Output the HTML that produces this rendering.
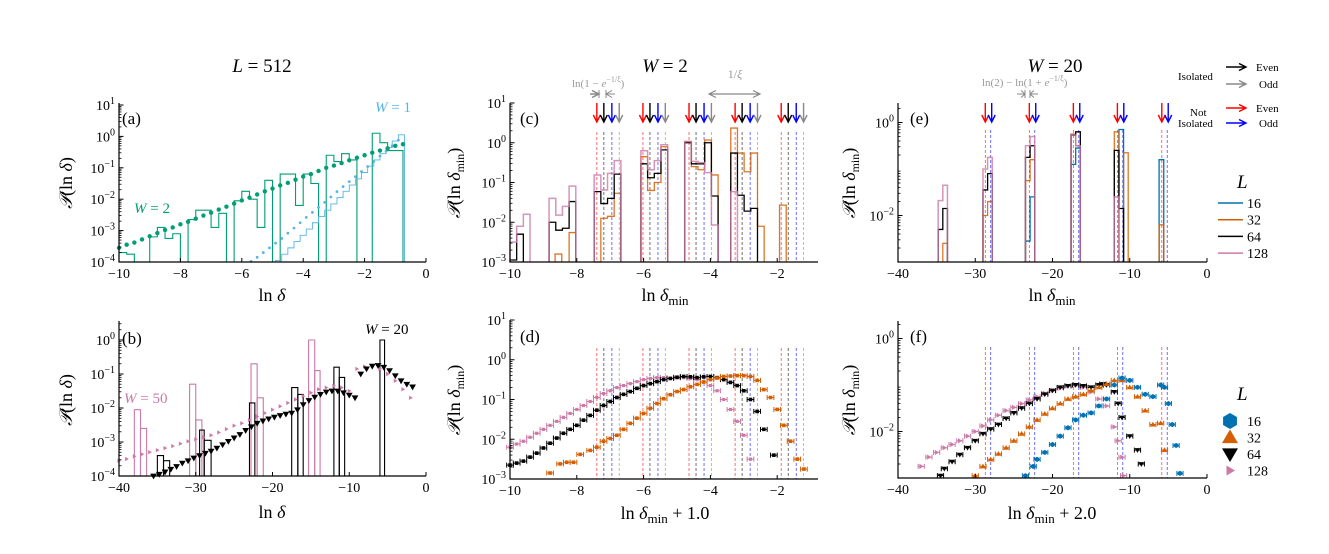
<!DOCTYPE html>
<html><head><meta charset="utf-8"><style>
html,body{margin:0;padding:0;background:#fff}
svg{display:block;font-family:"Liberation Serif",serif}
</style></head><body>
<svg id="fig" width="1329" height="554" viewBox="0 0 1329 554" xmlns="http://www.w3.org/2000/svg">
<g id="root"></g>
</svg>
<script>
// ---------- DATA ----------
// panel a
const aW2X = [-10,-9.75,-9.5,-9.25,-9,-8.75,-8.5,-8.25,-8,-7.75,-7.5,-7.25,-7,-6.75,-6.5,-6.25,-6,-5.75,-5.5,-5.25,-5,-4.75,-4.5,-4.25,-4,-3.75,-3.5,-3.25,-3,-2.75,-2.5,-2.25,-2,-1.75,-1.5,-1.25,-1,-0.75];
const aW2Y = [-3.55,-3.45,-3.38,-3.28,-3.18,-3.08,-2.98,-2.9,-2.8,-2.72,-2.62,-2.52,-2.43,-2.33,-2.24,-2.14,-2.04,-1.95,-1.85,-1.75,-1.66,-1.56,-1.48,-1.38,-1.28,-1.2,-1.1,-1.0,-0.93,-0.85,-0.76,-0.68,-0.6,-0.52,-0.45,-0.38,-0.3,-0.25];
const aW1X = [-5.7,-5.5,-5.3,-5.1,-4.9,-4.7,-4.5,-4.3,-4.1,-3.9,-3.7,-3.5,-3.3,-3.1,-2.9,-2.7,-2.5,-2.3,-2.1,-1.9,-1.7,-1.5,-1.3,-1.1,-0.9];
const aW1Y = [-3.98,-3.85,-3.7,-3.55,-3.4,-3.25,-3.08,-2.92,-2.75,-2.58,-2.42,-2.26,-2.1,-1.93,-1.76,-1.6,-1.44,-1.28,-1.12,-0.96,-0.8,-0.63,-0.47,-0.3,-0.12];
const aW1HistStart = -4.9;
const aW1HistW = 0.2;
const aW1HistY = [-3.95,-3.75,-3.55,-3.35,-3.15,-2.95,-2.75,-2.55,-2.35,-2.15,-1.95,-1.75,-1.55,-1.35,-1.15,-0.95,-0.75,-0.55,-0.35,-0.15,0.05];
const aW2HistStart = -10;
const aW2HistW = 0.25;
const aW2HistY = [-3.7,-3.75,-4,-4,-3.2,-2.9,-3.25,-3.1,-4,-2.65,-2.35,-2.35,-2.9,-2.45,-4,-2.05,-1.75,-2.0,-2.9,-1.4,-4,-1.2,-1.2,-2.2,-1.2,-1.5,-4,-0.6,-0.8,-0.55,-0.75,-4,-4,0.1,-0.2,-0.45,-0.45];
// panel b
const bW20X = [-35.5,-34.75,-34,-33.25,-32.5,-31.75,-31,-30.25,-29.5,-28.75,-28,-27.25,-26.5,-25.75,-25,-24.25,-23.5,-22.75,-22,-21.25,-20.5,-19.75,-19,-18.25,-17.5,-16.75,-16,-15.25,-14.5,-13.75,-13,-12.25,-11.5,-10.75,-10,-9.25,-8.5,-7.75,-7,-6.25,-5.5,-4.75,-4,-3.25,-2.5,-1.75];
const bW20Y = [-4.0,-3.95,-3.88,-3.8,-3.72,-3.62,-3.55,-3.47,-3.4,-3.33,-3.27,-3.18,-3.08,-2.98,-2.88,-2.78,-2.66,-2.55,-2.45,-2.38,-2.32,-2.27,-2.22,-2.18,-2.15,-2.05,-1.9,-1.78,-1.68,-1.6,-1.53,-1.5,-1.5,-1.55,-1.62,-1.7,-1.0,-0.85,-0.77,-0.75,-0.8,-0.9,-1.05,-1.2,-1.3,-1.38];
const bW50X = [-40,-39,-38,-37,-36,-35,-34,-33,-32,-31,-30,-29,-28,-27,-26,-25,-24,-23,-22,-21,-20,-19,-18,-17,-16,-15,-14,-13,-12,-11,-10,-9,-8,-7,-6,-5,-4,-3,-2];
const bW50Y = [-3.55,-3.5,-3.42,-3.36,-3.3,-3.24,-3.18,-3.12,-3.05,-2.98,-2.92,-2.86,-2.8,-2.72,-2.62,-2.52,-2.45,-2.35,-2.25,-2.15,-2.05,-1.95,-1.85,-1.75,-1.65,-1.55,-1.45,-1.4,-1.35,-1.4,-1.5,-0.85,-0.78,-0.75,-0.85,-1.0,-1.2,-1.45,-1.7];
const bHistPink = [[-38,-37.2,-2.05],[-37.2,-36.4,-2.6],[-30.8,-30,-1.3],[-30,-29.2,-2.35],[-22.8,-22,-0.7],[-22,-21.2,-1.7],[-15.3,-14.5,0.0],[-14.5,-13.8,-0.9]];
const bHistBlack = [[-35,-34.2,-3.4],[-34.2,-33.4,-3.55],[-29.5,-28.9,-2.65],[-28.9,-28,-2.95],[-23,-22.3,-1.85],[-17.5,-16.7,-1.4],[-16.7,-16,-1.6],[-12,-11.3,-0.8],[-11.3,-10.6,-1.1],[-6,-5.4,0.0]];
// panel c (clusters: start, values) bin width 0.2
const cBin = 0.2;
const cOrange = [[-8.65,[-2.8]],[-8.23,[-2.26]],[-7.48,[-3,-1.9,-1.85,-1.27]],[-6.08,[-0.35,-1.2,-1.0,-0.1]],[-4.77,[0.03,-0.6,-0.68,0.07,-0.81]],[-3.39,[0.37,-0.26,-0.73,-0.26,-2.1]],[-1.93,[-1.57]]];
const cBlack = [[-10,[-2.95,-2.3]],[-8.83,[-2.0,-2.2,-2.15,-1.48]],[-7.48,[-1.23,-1.53,-1.4,-0.79]],[-6.08,[-0.53,-0.88,-0.77,-0.18]],[-4.77,[0.0,-0.53,-0.53,0.0,-1.34]],[-3.39,[-0.26,-1.32,-1.72,-1.65]]];
const cPink = [[-10,[-2.5,-2.1,-1.8]],[-8.83,[-1.4,-1.82,-1.6,-1.09]],[-7.48,[-0.81,-1.19,-0.77,-0.45]],[-6.08,[-0.2,-0.68,-0.45,-0.05]],[-4.77,[0.03,-0.47,-0.5,-0.75,-2.07]],[-3.39,[-1.23]]];
// reference lines (W=2)
const cRedLines = [-7.4,-6.02,-4.64,-3.26,-1.88];
const cOffsets = [0, 0.21, 0.45, 0.67];
// panel d
const dPinkX = [-10,-9.8,-9.6,-9.4,-9.2,-9,-8.8,-8.6,-8.4,-8.2,-8,-7.8,-7.6,-7.4,-7.2,-7,-6.8,-6.6,-6.4,-6.2,-6,-5.8,-5.6,-5.4,-5.2,-5,-4.8,-4.6,-4.4,-4.2,-4,-3.8,-3.6,-3.4,-3.2,-3,-2.8];
const dPinkY = [-2.2,-2.12,-2.05,-1.95,-1.85,-1.75,-1.65,-1.55,-1.45,-1.35,-1.25,-1.15,-1.05,-0.95,-0.85,-0.78,-0.7,-0.65,-0.6,-0.55,-0.5,-0.47,-0.45,-0.45,-0.47,-0.46,-0.45,-0.47,-0.5,-0.56,-0.65,-0.78,-1.0,-1.25,-1.55,-1.9,-2.5];
const dBlackX = [-10,-9.8,-9.6,-9.4,-9.2,-9,-8.8,-8.6,-8.4,-8.2,-8,-7.8,-7.6,-7.4,-7.2,-7,-6.8,-6.6,-6.4,-6.2,-6,-5.8,-5.6,-5.4,-5.2,-5,-4.8,-4.6,-4.4,-4.2,-4,-3.8,-3.6,-3.4,-3.2,-3,-2.8,-2.6,-2.4,-2.1];
const dBlackY = [-2.65,-2.6,-2.55,-2.45,-2.35,-2.22,-2.1,-1.97,-1.85,-1.75,-1.65,-1.52,-1.4,-1.27,-1.15,-1.05,-0.95,-0.87,-0.8,-0.72,-0.65,-0.6,-0.55,-0.5,-0.47,-0.44,-0.42,-0.43,-0.45,-0.43,-0.42,-0.45,-0.5,-0.57,-0.65,-0.78,-1.0,-1.3,-1.75,-2.4];
const dOrangeX = [-8.8,-8.5,-8.3,-8.1,-7.9,-7.6,-7.4,-7.2,-7,-6.8,-6.6,-6.4,-6.2,-6,-5.8,-5.6,-5.4,-5.2,-5,-4.8,-4.6,-4.4,-4.2,-4,-3.8,-3.6,-3.4,-3.2,-3,-2.8,-2.6,-2.4,-2.2,-2,-1.8,-1.6,-1.4,-1.2];
const dOrangeY = [-2.85,-2.62,-2.58,-2.58,-2.38,-2.28,-2.2,-2.05,-1.98,-1.9,-1.75,-1.6,-1.47,-1.35,-1.22,-1.1,-0.98,-0.88,-0.8,-0.75,-0.68,-0.62,-0.56,-0.5,-0.46,-0.42,-0.41,-0.4,-0.4,-0.42,-0.52,-0.75,-0.95,-1.25,-1.65,-2.05,-2.5,-2.75];
// panel e (bin width 0.6)
const eBin = 0.6;
const eOrange = [[-34.2,[-2.6]],[-29,[-2.0,-1.7]],[-23.5,[-1.25,-0.8]],[-17.6,[-0.25,-0.5]],[-12,[-0.2]],[-10.8,[-0.65]],[-6.2,[-2.2]]];
const eBlack = [[-34.8,[-2.3,-1.85]],[-29,[-1.45,-1.1]],[-23.5,[-0.75,-0.5]],[-17.6,[-0.27,-0.2]],[-12,[-0.6,-1.85]]];
const ePink = [[-34.8,[-1.68,-1.35]],[-29,[-1.0,-0.75]],[-23.5,[-0.5,-0.3]],[-17.6,[-0.27,-0.5]],[-12,[-1.6]]];
const eBlue = [[-23.5,[-2.55,-1.6]],[-17.6,[-0.9,-0.55]],[-11.4,[-0.15]],[-6.2,[-0.8]]];
const eRedLines = [-28.7,-23.0,-17.3,-11.6,-5.85];
const eBlueOffset = 0.7;
// panel f
const fPinkX = [-37,-36,-35,-34,-33,-32,-31,-30,-29,-28,-27,-26,-25,-24,-23,-22,-21,-20,-19,-18,-17,-16,-15,-14,-13,-12,-11.5,-11,-10.8];
const fPinkY = [-2.75,-2.55,-2.45,-2.35,-2.28,-2.2,-2.1,-2.0,-1.88,-1.75,-1.65,-1.55,-1.48,-1.4,-1.32,-1.25,-1.18,-1.12,-1.07,-1.02,-1.0,-1.05,-1.15,-1.3,-1.45,-1.9,-2.2,-2.55,-2.95];
const fBlackX = [-34.5,-34,-33,-32,-31,-30,-29,-28,-27,-26,-25,-24,-23,-22,-21,-20,-19,-18,-17,-16,-15,-14,-13.5,-13,-12,-11.5,-11,-10,-9,-8.5];
const fBlackY = [-2.95,-2.8,-2.65,-2.5,-2.35,-2.2,-2.05,-1.95,-1.85,-1.72,-1.6,-1.5,-1.4,-1.3,-1.2,-1.12,-1.05,-1.02,-1.0,-1.02,-1.05,-1.0,-0.98,-1.0,-1.15,-1.4,-1.7,-2.1,-2.4,-2.7];
const fOrangeX = [-30,-29,-28,-27,-26,-25,-24,-23,-22,-21,-20,-19,-18,-17,-16,-15,-14,-13,-12,-11,-10,-9,-8,-7,-6,-5.5];
const fOrangeY = [-2.95,-2.75,-2.6,-2.48,-2.35,-2.2,-2.05,-1.9,-1.75,-1.62,-1.5,-1.4,-1.3,-1.25,-1.2,-1.12,-1.05,-0.98,-0.9,-0.9,-1.05,-1.25,-1.55,-1.85,-1.82,-2.4];
const fBlueX = [-23.5,-22.5,-22,-21,-20,-19,-18,-17,-16,-15,-14,-13,-12,-11,-10,-9,-8,-7,-6,-5.5,-5,-4.5,-4,-3.5];
const fBlueY = [-2.95,-2.75,-2.6,-2.45,-2.28,-2.1,-1.92,-1.75,-1.65,-1.6,-1.45,-1.3,-1.0,-0.85,-0.9,-1.05,-1.2,-1.25,-1.0,-1.05,-1.4,-1.85,-2.3,-2.9];

// ---------- COLORS ----------
const C16 = '#0072b2', C32 = '#d55e00', C64 = '#000000', C128 = '#cc79a7';
const GREEN = '#009e73', LBLUE = '#56b4e9';

// ---------- HELPERS ----------
const NS = 'http://www.w3.org/2000/svg';
const root = document.getElementById('root');
function el(tag, attrs, parent) {
  const e = document.createElementNS(NS, tag);
  for (const k in attrs) e.setAttribute(k, attrs[k]);
  (parent || root).appendChild(e);
  return e;
}
function grp(name, parent) {
  const g = el('g', {}, parent);
  
  
  return g;
}
function mkAxes(o) {
  o.sx = x => o.px0 + (x - o.xmin) * o.ux;
  o.sy = l => o.by - (l - o.ylog0) * o.dec;
  return o;
}
function fmtNum(v) { return v < 0 ? '\u2212' + Math.abs(v) : String(v); }
function drawAxes(o, name, xticks, yticks, minorFrom, minorTo) {
  const g = grp(name + '-axes');
  const bottom = o.by;
  const sp = el('path', {d: `M${o.px0},${o.top}V${bottom}H${o.xend}`, stroke: '#000', 'stroke-width': 1.2, fill: 'none'}, g);
  
  
  const xg = grp(name + '-x-ticks', g);
  xticks.forEach(v => {
    const x = o.sx(v);
    el('line', {x1: x, x2: x, y1: bottom, y2: bottom - 4, stroke: '#000', 'stroke-width': 1}, xg);
    const t = el('text', {x: x, y: bottom + 16, 'font-size': 14, 'text-anchor': 'middle'}, xg);
    
    
    t.textContent = fmtNum(v);
  });
  const yg = grp(name + '-y-ticks', g);
  for (let d = minorFrom; d < minorTo; d++) {
    for (let m = 2; m <= 9; m++) {
      const y = o.sy(d + Math.log10(m));
      if (y < o.top || y > bottom) continue;
      el('line', {x1: o.px0, x2: o.px0 + 2.5, y1: y, y2: y, stroke: '#000', 'stroke-width': 0.8}, yg);
    }
  }
  yticks.forEach(v => {
    const y = o.sy(v);
    el('line', {x1: o.px0, x2: o.px0 + 4.5, y1: y, y2: y, stroke: '#000', 'stroke-width': 1}, yg);
    const t = el('text', {x: o.px0 - 4, y: y + 5, 'font-size': 14, 'text-anchor': 'end'}, yg);
    
    
    const b = el('tspan', {}, t); b.textContent = '10';
    const s = el('tspan', {'font-size': 10, dy: -6}, t); s.textContent = fmtNum(v);
  });
}
function label(txt, x, y, opts, name) {
  const t = el('text', Object.assign({x: x, y: y, 'font-size': 16}, opts || {}));
  
  
  t.innerHTML = txt;
  return t;
}
function ylabel(x, y, sub, name) {
  const t = el('text', {x: 0, y: 0, 'font-size': 18, 'text-anchor': 'middle', transform: `translate(${x},${y}) rotate(-90)`});
  
  
  t.innerHTML = sub ? '<tspan font-style="italic">𝒫</tspan>(ln <tspan font-style="italic">δ</tspan><tspan font-size="12" dy="4">min</tspan><tspan dy="-4">)</tspan>' : '<tspan font-style="italic">𝒫</tspan>(ln <tspan font-style="italic">δ</tspan>)';
}
function stepHist(o, start, w, vals, color, g, sw, op) {
  const base = o.by;
  let d = `M${o.sx(start)},${base}`;
  vals.forEach((v, i) => {
    const y = Math.min(base, o.sy(v));
    d += `L${o.sx(start + i * w)},${y}L${o.sx(start + (i + 1) * w)},${y}`;
  });
  d += `L${o.sx(start + vals.length * w)},${base}`;
  const p = el('path', {d: d, fill: 'none', stroke: color, 'stroke-width': sw || 1.2, opacity: op || 1}, g);
  
  
}
function clusters(o, list, w, color, g, sw, op) {
  list.forEach(c => stepHist(o, c[0], w, c[1], color, g, sw, op));
}
function bars(o, list, color, g) {
  list.forEach(b => {
    const y = o.sy(b[2]);
    const p = el('path', {d: `M${o.sx(b[0])},${o.by}V${y}H${o.sx(b[1])}V${o.by}`, fill: 'none', stroke: color, 'stroke-width': 1.1}, g);
    
    
  });
}
function marker(shape, x, y, r, color, g) {
  let m;
  if (shape === 'circle') m = el('circle', {cx: x, cy: y, r: r, fill: color}, g);
  else if (shape === 'down') m = el('path', {d: `M${x - r},${y - r * 0.7}L${x + r},${y - r * 0.7}L${x},${y + r}Z`, fill: color}, g);
  else if (shape === 'up') m = el('path', {d: `M${x - r},${y + r * 0.7}L${x + r},${y + r * 0.7}L${x},${y - r}Z`, fill: color}, g);
  else if (shape === 'right') m = el('path', {d: `M${x - r * 0.7},${y - r}L${x - r * 0.7},${y + r}L${x + r},${y}Z`, fill: color}, g);
  else if (shape === 'hex') {
    let d = '';
    for (let k = 0; k < 6; k++) { const a = Math.PI / 6 + k * Math.PI / 3; d += (k ? 'L' : 'M') + (x + r * Math.cos(a)) + ',' + (y + r * Math.sin(a)); }
    m = el('path', {d: d + 'Z', fill: color}, g);
  } else m = el('rect', {x: x - r, y: y - r, width: 2 * r, height: 2 * r, fill: color}, g);
  
  
  return m;
}
function scatter(o, xs, ys, shape, r, color, g, op) {
  xs.forEach((x, i) => { const m = marker(shape, o.sx(x), o.sy(ys[i]), r, color, g); if (op) m.setAttribute('opacity', op); });
}
function errScatter(o, xs, ys, hw, shape, r, color, g) {
  xs.forEach((x, i) => {
    const px = o.sx(x), py = o.sy(ys[i]);
    if (py > o.by + 1) return;
    const a = o.sx(x - hw), b = o.sx(x + hw);
    const p = el('path', {d: `M${a},${py}H${b}M${a},${py - 2.5}V${py + 2.5}M${b},${py - 2.5}V${py + 2.5}`, stroke: color, 'stroke-width': 1, fill: 'none'}, g);
    
    
    marker(shape, px, py, r, color, g);
  });
}
function vlines(o, xs, color, y1, g) {
  xs.forEach(x => {
    const l = el('line', {x1: o.sx(x), x2: o.sx(x), y1: y1, y2: o.by, stroke: color, 'stroke-width': 0.8, 'stroke-dasharray': '3,2', opacity: 0.7}, g);
    
    
  });
}
function downArrow(x, y1, y2, color, g) {
  const p = el('path', {d: `M${x},${y1}V${y2}M${x - 3.5},${y2 - 7}L${x},${y2}L${x + 3.5},${y2 - 7}`, stroke: color, 'stroke-width': 1.4, fill: 'none'}, g);
  
  
}
function rightArrow(x1, x2, y, color, g) {
  const p = el('path', {d: `M${x1},${y}H${x2}M${x2 - 7},${y - 3.5}L${x2},${y}L${x2 - 7},${y + 3.5}`, stroke: color, 'stroke-width': 1.4, fill: 'none'}, g);
  
  
}

// ---------- PANEL A ----------
const A = mkAxes({px0: 119, xmin: -10, ux: 30.7, xend: 426, ylog0: -4, by: 262, dec: 31.4, top: 103});
const gA = grp('panel-a');
stepHist(A, aW2HistStart, aW2HistW, aW2HistY, GREEN, gA, 1.1);
stepHist(A, aW1HistStart, aW1HistW, aW1HistY, LBLUE, gA, 0.9);
scatter(A, aW1X, aW1Y, 'circle', 1.4, LBLUE, gA);
scatter(A, aW2X, aW2Y, 'circle', 2.2, GREEN, gA);
drawAxes(A, 'panel-a', [-10, -8, -6, -4, -2, 0], [-4, -3, -2, -1, 0, 1], -4, 1);
label('(a)', 122, 124, {'font-size': 17}, 'panel-a-label');
label('<tspan font-style="italic">W</tspan> = 1', 375, 112, {fill: LBLUE, 'font-size': 15}, 'w1-label');
label('<tspan font-style="italic">W</tspan> = 2', 134, 213, {fill: GREEN, 'font-size': 15}, 'w2-label');
ylabel(72, 183, false, 'panel-a-y-title');
label('ln <tspan font-style="italic">δ</tspan>', 272, 301, {'text-anchor': 'middle', 'font-size': 18}, 'panel-a-x-title');
label('<tspan font-style="italic">L</tspan> = 512', 262, 72, {'text-anchor': 'middle', 'font-size': 19}, 'column-title-l512');

// ---------- PANEL B ----------
const B = mkAxes({px0: 119, xmin: -40, ux: 7.675, xend: 426, ylog0: -4, by: 476, dec: 34, top: 321});
const gB = grp('panel-b');
bars(B, bHistPink, C128, gB);
bars(B, bHistBlack, C64, gB);
scatter(B, bW50X, bW50Y, 'right', 2.2, C128, gB);
scatter(B, bW20X, bW20Y, 'down', 3.4, C64, gB);
drawAxes(B, 'panel-b', [-40, -30, -20, -10, 0], [-4, -3, -2, -1, 0], -4, 1);
label('(b)', 122, 344, {'font-size': 17}, 'panel-b-label');
label('<tspan font-style="italic">W</tspan> = 20', 365, 334, {'font-size': 15}, 'w20-label');
label('<tspan font-style="italic">W</tspan> = 50', 124, 403, {fill: C128, 'font-size': 15}, 'w50-label');
ylabel(72, 400, false, 'panel-b-y-title');
label('ln <tspan font-style="italic">δ</tspan>', 272, 518, {'text-anchor': 'middle', 'font-size': 18}, 'panel-b-x-title');

// ---------- PANEL C ----------
const Cx = mkAxes({px0: 510, xmin: -10, ux: 33.4, xend: 818, ylog0: -3, by: 262, dec: 39.75, top: 103});
const gC = grp('panel-c');
const lineCols = ['#ff0000', '#000000', '#0000ff', '#888888'];
cOffsets.forEach((off, k) => vlines(Cx, cRedLines.map(r => r + off), lineCols[k], 132, gC));
cRedLines.forEach(r => cOffsets.forEach((off, k) => downArrow(Cx.sx(r + off), 103, 122, lineCols[k], gC)));
clusters(Cx, cOrange, cBin, C32, gC, 1.3, 0.85);
clusters(Cx, cBlack, cBin, C64, gC, 1.3);
clusters(Cx, cPink, cBin, C128, gC, 1.5, 0.8);
drawAxes(Cx, 'panel-c', [-10, -8, -6, -4, -2], [-3, -2, -1, 0, 1], -3, 1);
label('(c)', 520, 124, {'font-size': 17}, 'panel-c-label');
label('ln(1 − <tspan font-style="italic">e</tspan><tspan font-size="8" dy="-5">−1/ξ</tspan><tspan dy="5">)</tspan>', 572, 87, {fill: '#999', 'font-size': 11}, 'gap-annotation');
const annC = grp('gap-annotation-arrows');
rightArrow(590, 599, 94, '#888', annC);
el('path', {d: 'M615,94H606M612,90.5L606,94L612,97.5M599,90V98M606,90V98', stroke: '#888', 'stroke-width': 1, fill: 'none'}, annC);
label('1/<tspan font-style="italic">ξ</tspan>', 735, 78, {fill: '#999', 'font-size': 12, 'text-anchor': 'middle'}, 'xi-annotation');
el('path', {d: 'M709,94H760M716,90.5L709,94L716,97.5M753,90.5L760,94L753,97.5', stroke: '#888', 'stroke-width': 1.2, fill: 'none'}, annC);
ylabel(460, 183, true, 'panel-c-y-title');
label('ln <tspan font-style="italic">δ</tspan><tspan font-size="13" dy="4">min</tspan>', 665, 301, {'text-anchor': 'middle', 'font-size': 18}, 'panel-c-x-title');
label('<tspan font-style="italic">W</tspan> = 2', 665, 72, {'text-anchor': 'middle', 'font-size': 19}, 'column-title-w2');

// ---------- PANEL D ----------
const D = mkAxes({px0: 510, xmin: -10, ux: 33.4, xend: 818, ylog0: -3, by: 479, dec: 39.75, top: 320});
const gD = grp('panel-d');
cOffsets.forEach((off, k) => vlines(D, cRedLines.map(r => r + off), lineCols[k], 348, gD));
errScatter(D, dPinkX, dPinkY, 0.1, 'sq', 1.6, C128, gD);
errScatter(D, dBlackX, dBlackY, 0.1, 'sq', 1.8, C64, gD);
errScatter(D, dOrangeX, dOrangeY, 0.1, 'sq', 1.8, C32, gD);
drawAxes(D, 'panel-d', [-10, -8, -6, -4, -2], [-3, -2, -1, 0, 1], -3, 1);
label('(d)', 520, 342, {'font-size': 17}, 'panel-d-label');
ylabel(460, 400, true, 'panel-d-y-title');
label('ln <tspan font-style="italic">δ</tspan><tspan font-size="13" dy="4">min</tspan><tspan dy="-4"> + 1.0</tspan>', 665, 519, {'text-anchor': 'middle', 'font-size': 18}, 'panel-d-x-title');

// ---------- PANEL E ----------
const E = mkAxes({px0: 898, xmin: -40, ux: 7.725, xend: 1207, ylog0: -3, by: 262, dec: 46.5, top: 103});
const gE = grp('panel-e');
vlines(E, eRedLines, '#ff0000', 130, gE);
vlines(E, eRedLines.map(r => r + eBlueOffset), '#0000ff', 130, gE);
eRedLines.forEach(r => { downArrow(E.sx(r), 103, 122, '#ff0000', gE); downArrow(E.sx(r + eBlueOffset) + 1, 103, 122, '#0000ff', gE); });
clusters(E, eBlue, eBin, C16, gE, 1.3);
clusters(E, eOrange, eBin, C32, gE, 1.3, 0.85);
clusters(E, eBlack, eBin, C64, gE, 1.3);
clusters(E, ePink, eBin, C128, gE, 1.5, 0.8);
drawAxes(E, 'panel-e', [-40, -30, -20, -10, 0], [-2, 0], -3, 1);
label('(e)', 910, 124, {'font-size': 17}, 'panel-e-label');
label('ln(2) − ln(1 + <tspan font-style="italic">e</tspan><tspan font-size="8" dy="-5">−1/ξ</tspan><tspan dy="5">)</tspan>', 982, 86, {fill: '#999', 'font-size': 11}, 'gap-annotation-e');
el('path', {d: 'M1017,94H1025M1021,90.5L1025,94L1021,97.5M1025,90V98M1030,90V98M1038,94H1030M1034,90.5L1030,94L1034,97.5', stroke: '#888', 'stroke-width': 1, fill: 'none'}, gE);
ylabel(855, 183, true, 'panel-e-y-title');
label('ln <tspan font-style="italic">δ</tspan><tspan font-size="13" dy="4">min</tspan>', 1052, 301, {'text-anchor': 'middle', 'font-size': 18}, 'panel-e-x-title');
label('<tspan font-style="italic">W</tspan> = 20', 1055, 72, {'text-anchor': 'middle', 'font-size': 19}, 'column-title-w20');

// arrow legend
const gAL = grp('arrow-legend');
label('Isolated', 1178, 80, {'font-size': 11}, 'legend-isolated');
rightArrow(1226, 1246, 67, '#000', gAL);
rightArrow(1226, 1246, 84, '#888', gAL);
label('Even', 1256, 71, {'font-size': 11}, 'legend-even');
label('Odd', 1259, 88, {'font-size': 11}, 'legend-odd');
label('Not', 1190, 116, {'font-size': 11}, 'legend-not');
label('Isolated', 1178, 127, {'font-size': 11}, 'legend-not-isolated');
rightArrow(1226, 1246, 108, '#ff0000', gAL);
rightArrow(1226, 1246, 123, '#0000ff', gAL);
label('Even', 1256, 112, {'font-size': 11}, 'legend-even-2');
label('Odd', 1259, 127, {'font-size': 11}, 'legend-odd-2');

// L legend (lines)
const gLL = grp('size-legend-lines');
label('<tspan font-style="italic">L</tspan>', 1237, 188, {'font-size': 19}, 'legend-title-l');
const legL = ['16', '32', '64', '128'];
const legC = [C16, C32, C64, C128];
legL.forEach((t, i) => {
  const y = 203 + i * 16.7;
  const l = el('line', {x1: 1218, x2: 1243, y1: y, y2: y, stroke: legC[i], 'stroke-width': 1.5}, gLL);
  
  
  label(t, 1247, y + 5, {'font-size': 14}, 'legend-entry-' + t);
});

// ---------- PANEL F ----------
const F = mkAxes({px0: 898, xmin: -40, ux: 7.725, xend: 1207, ylog0: -3, by: 478, dec: 46.5, top: 321});
const gF = grp('panel-f');
vlines(F, eRedLines, '#ff0000', 347, gF);
vlines(F, eRedLines.map(r => r + eBlueOffset), '#0000ff', 347, gF);
errScatter(F, fPinkX, fPinkY, 0.4, 'right', 2.6, C128, gF);
errScatter(F, fBlackX, fBlackY, 0.4, 'down', 2.8, C64, gF);
errScatter(F, fOrangeX, fOrangeY, 0.4, 'up', 2.8, C32, gF);
errScatter(F, fBlueX, fBlueY, 0.4, 'hex', 2.6, C16, gF);
drawAxes(F, 'panel-f', [-40, -30, -20, -10, 0], [-2, 0], -3, 1);
label('(f)', 910, 342, {'font-size': 17}, 'panel-f-label');
ylabel(855, 400, true, 'panel-f-y-title');
label('ln <tspan font-style="italic">δ</tspan><tspan font-size="13" dy="4">min</tspan><tspan dy="-4"> + 2.0</tspan>', 1052, 519, {'text-anchor': 'middle', 'font-size': 18}, 'panel-f-x-title');

// L legend (markers)
const gLM = grp('size-legend-markers');
label('<tspan font-style="italic">L</tspan>', 1237, 400, {'font-size': 19}, 'legend-title-l-2');
const legShapes = ['hex', 'up', 'down', 'right'];
const legR = [8, 8, 8, 5];
legL.forEach((t, i) => {
  const y = 421 + i * 16.5;
  marker(legShapes[i], 1230, y, legR[i], legC[i], gLM);
  label(t, 1247, y + 5, {'font-size': 14}, 'legend-marker-entry-' + t);
});
</script>
</body></html>
